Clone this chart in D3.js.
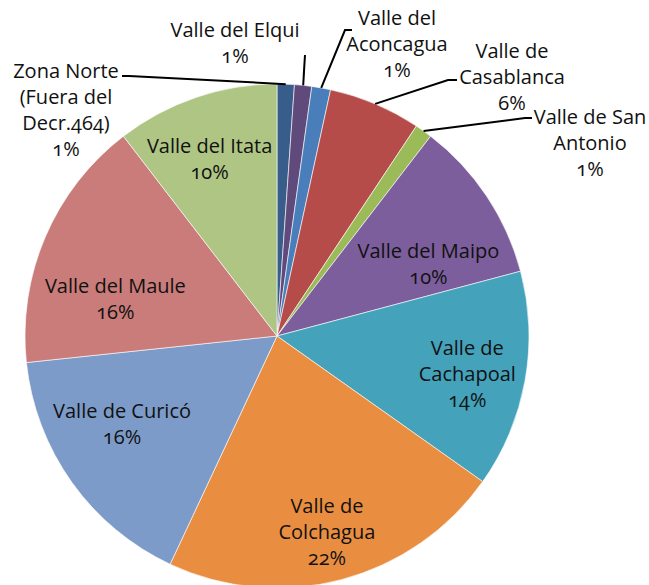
<!DOCTYPE html>
<html>
<head>
<meta charset="utf-8">
<title>Valles</title>
<style>
  body { margin: 0; background: #fff; }
  svg text {
    font-family: "Open Sans", sans-serif;
    font-size: 20px;
    fill: #111;
    font-variant-numeric: oldstyle-nums;
  }
</style>
</head>
<body>
<script src="https://cdnjs.cloudflare.com/ajax/libs/d3/7.8.5/d3.min.js"></script>
<script>
// data, clockwise from 12 o'clock
const categories = [
  "Zona Norte\n(Fuera del\nDecr.464)",
  "Valle del Elqui",
  "Valle del\nAconcagua",
  "Valle de\nCasablanca",
  "Valle de San\nAntonio",
  "Valle del Maipo",
  "Valle de\nCachapoal",
  "Valle de\nColchagua",
  "Valle de Curicó",
  "Valle del Maule",
  "Valle del Itata"
];
const values = [1.1, 1.1, 1.2, 5.9, 1.1, 10.4, 13.9, 22.1, 16.3, 16.2, 10.4];
const colors = ["#385d8a", "#604a7b", "#4a7ebb", "#b64c49", "#9bbb59", "#7d5e9c",
                "#44a2bb", "#e98e41", "#7d9bc8", "#c97c7a", "#afc584"];

const width = 649, height = 585;
const cx = 277, cy = 336, R = 252;

// outside labels: text block centre + leader bend/end
const outside = {
  0: {x: 66, y: 70, bend: [129, 76], end: [122, 76]},
  1: {x: 235, y: 29, bend: null, end: [305, 55]},
  2: {x: 397, y: 17, bend: [345, 30], end: [352, 30]},
  3: {x: 512, y: 50, bend: [448, 80], end: [457, 80]},
  4: {x: 590, y: 116, bend: [525, 118], end: [532, 118]}
};
// small nudges for inside labels (radius, angle in degrees)
const inside = {
  5: {r: 168, da: 8},
  6: {r: 194, da: 1},
  7: {r: 202, da: 0.5},
  8: {r: 178, da: 6},
  9: {r: 166, da: -10},
  10: {r: 190, da: -2}
};
const lineH = 26;

const svg = d3.select("body").append("svg")
  .attr("width", width)
  .attr("height", height);

const g = svg.append("g").attr("transform", `translate(${cx},${cy})`);

const total = d3.sum(values);
const pie = d3.pie().sort(null).value(d => d);
const arcs = pie(values);
const arc = d3.arc().innerRadius(0).outerRadius(R);

g.selectAll(".slice")
  .data(arcs)
  .enter().append("path")
    .attr("class", "slice")
    .attr("d", arc)
    .style("fill", (d, i) => colors[i])
    .style("stroke", "#fff")
    .style("stroke-width", 0.6);

function pct(v) { return Math.round(v / total * 100) + "%"; }

arcs.forEach((d, i) => {
  const lines = categories[i].split("\n").concat([pct(d.value)]);
  const mid = (d.startAngle + d.endAngle) / 2;
  let x, y;
  if (outside[i]) {
    const o = outside[i];
    const p0 = [cx + R * Math.sin(mid), cy - R * Math.cos(mid)];
    const pts = [p0];
    if (o.bend) pts.push(o.bend);
    pts.push(o.end);
    svg.append("path")
      .attr("d", d3.line()(pts))
      .style("fill", "none")
      .style("stroke", "#000")
      .style("stroke-width", 2);
    x = o.x;
    y = o.y;
  } else {
    const n = inside[i];
    const a = mid + n.da * Math.PI / 180;
    x = cx + n.r * Math.sin(a);
    y = cy - n.r * Math.cos(a) - (lines.length - 1) * lineH / 2;
  }
  const t = svg.append("text")
    .attr("text-anchor", "middle");
  lines.forEach((s, k) => {
    t.append("tspan")
      .attr("x", x)
      .attr("y", y + k * lineH)
      .attr("dominant-baseline", "central")
      .text(s);
  });
});
</script>
</body>
</html>
